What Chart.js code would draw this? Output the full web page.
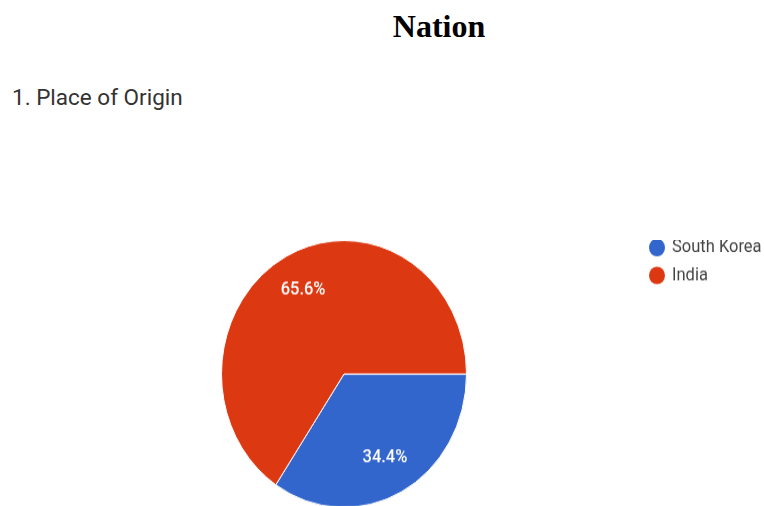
<!DOCTYPE html>
<html>
<head>
<meta charset="utf-8">
<title>Nation</title>
<script src="https://cdn.jsdelivr.net/npm/chart.js@4.4.1/dist/chart.umd.min.js"></script>
<style>
    html, body {
        margin: 0;
        padding: 0;
        background: #fff;
        width: 764px;
        height: 506px;
        overflow: hidden;
    }
    #pageTitle {
        position: absolute;
        left: 0;
        width: 878px;
        top: 8px;
        text-align: center;
        font: bold 32px "Liberation Serif", "Times New Roman", serif;
        color: #000;
    }
    #question {
        position: absolute;
        left: 12px;
        top: 84px;
        font: 22.5px Roboto, Arial, sans-serif;
        color: #333;
    }
    /* the form export is stretched a little vertically */
    #chartBox {
        position: absolute;
        left: 0;
        top: 240px;
        width: 764px;
        height: 246px;
        transform: scaleY(1.0894);
        transform-origin: 0 0;
    }
</style>
</head>
<body>
<div id="pageTitle">Nation</div>
<div id="question">1. Place of Origin</div>
<div id="chartBox"><canvas id="originChart"></canvas></div>

<script>
// Responses to "Place of Origin"
const countries = ['South Korea', 'India'];
const shares = [34.4, 65.6];
const sliceColors = ['#3366cc', '#dc3912'];

// Percent labels inside each slice
const sliceLabels = {
    id: 'sliceLabels',
    afterDatasetsDraw(chart) {
        const ctx = chart.ctx;
        const meta = chart.getDatasetMeta(0);
        ctx.save();
        ctx.font = '500 16.5px Roboto, Arial, sans-serif';
        ctx.fillStyle = '#fff';
        ctx.textAlign = 'center';
        ctx.textBaseline = 'middle';
        meta.data.forEach((arc, i) => {
            const p = arc.getProps(['x', 'y', 'startAngle', 'endAngle', 'outerRadius'], true);
            const mid = (p.startAngle + p.endAngle) / 2;
            const r = p.outerRadius * 0.71;
            ctx.fillText(shares[i].toFixed(1) + '%', p.x + Math.cos(mid) * r, p.y + Math.sin(mid) * r);
        });
        ctx.restore();
    }
};

// Simple dot legend to the right of the pie
const dotLegend = {
    id: 'dotLegend',
    afterDraw(chart) {
        const ctx = chart.ctx;
        const labels = chart.data.labels;
        const colors = chart.data.datasets[0].backgroundColor;
        ctx.save();
        ctx.font = '16.5px Roboto, Arial, sans-serif';
        ctx.textBaseline = 'middle';
        labels.forEach((label, i) => {
            const y = 7 + i * 25.5;
            ctx.beginPath();
            ctx.arc(657, y, 8, 0, Math.PI * 2);
            ctx.fillStyle = colors[i];
            ctx.fill();
            ctx.fillStyle = '#444';
            ctx.fillText(label, 672, y);
        });
        ctx.restore();
    }
};

const originChart = new Chart(document.getElementById('originChart'), {
    type: 'pie',
    data: {
        labels: countries,
        datasets: [{
            data: shares,
            backgroundColor: sliceColors,
            borderColor: '#fff',
            borderWidth: 1
        }]
    },
    options: {
        responsive: true,
        maintainAspectRatio: false,
        animation: false,
        rotation: 90,
        layout: {
            padding: { left: 221, right: 297, top: 0, bottom: 0 }
        },
        plugins: {
            legend: { display: false },
            tooltip: { enabled: false }
        }
    },
    plugins: [sliceLabels, dotLegend]
});
</script>
</body>
</html>
